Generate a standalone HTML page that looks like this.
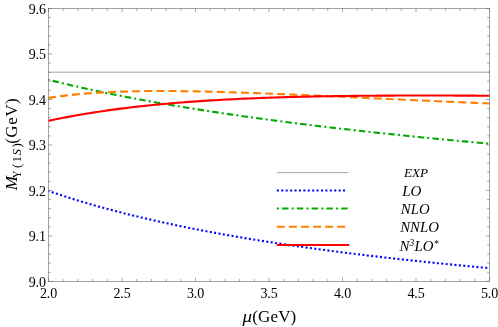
<!DOCTYPE html>
<html><head><meta charset="utf-8"><style>
html,body{margin:0;padding:0;background:#fff;}
svg{display:block;will-change:transform;font-kerning:none;font-family:"Liberation Serif",serif;}
</style></head><body>
<svg width="498" height="327" viewBox="0 0 498 327">
<rect x="0" y="0" width="498" height="327" fill="#fff"/>
<line x1="48.5" y1="72.18" x2="489.5" y2="72.18" stroke="#666666" stroke-width="0.6"/>
<g fill="none" stroke-width="2.1">
<path d="M48.50 190.91 L52.21 192.19 L55.91 193.45 L59.62 194.68 L63.32 195.90 L67.03 197.09 L70.74 198.27 L74.44 199.42 L78.15 200.56 L81.85 201.68 L85.56 202.78 L89.26 203.87 L92.97 204.93 L96.68 205.99 L100.38 207.02 L104.09 208.04 L107.79 209.04 L111.50 210.03 L115.21 211.01 L118.91 211.97 L122.62 212.92 L126.32 213.85 L130.03 214.77 L133.74 215.68 L137.44 216.58 L141.15 217.46 L144.85 218.33 L148.56 219.19 L152.26 220.04 L155.97 220.88 L159.68 221.70 L163.38 222.52 L167.09 223.32 L170.79 224.11 L174.50 224.90 L178.21 225.67 L181.91 226.44 L185.62 227.19 L189.32 227.94 L193.03 228.67 L196.74 229.40 L200.44 230.12 L204.15 230.83 L207.85 231.53 L211.56 232.22 L215.26 232.90 L218.97 233.58 L222.68 234.25 L226.38 234.91 L230.09 235.56 L233.79 236.21 L237.50 236.85 L241.21 237.48 L244.91 238.10 L248.62 238.72 L252.32 239.33 L256.03 239.94 L259.74 240.53 L263.44 241.12 L267.15 241.71 L270.85 242.29 L274.56 242.86 L278.26 243.42 L281.97 243.98 L285.68 244.54 L289.38 245.09 L293.09 245.63 L296.79 246.17 L300.50 246.70 L304.21 247.22 L307.91 247.75 L311.62 248.26 L315.32 248.77 L319.03 249.28 L322.74 249.78 L326.44 250.27 L330.15 250.76 L333.85 251.25 L337.56 251.73 L341.26 252.21 L344.97 252.68 L348.68 253.15 L352.38 253.61 L356.09 254.07 L359.79 254.52 L363.50 254.97 L367.21 255.42 L370.91 255.86 L374.62 256.30 L378.32 256.73 L382.03 257.16 L385.74 257.59 L389.44 258.01 L393.15 258.43 L396.85 258.84 L400.56 259.25 L404.26 259.66 L407.97 260.06 L411.68 260.46 L415.38 260.86 L419.09 261.25 L422.79 261.64 L426.50 262.03 L430.21 262.41 L433.91 262.79 L437.62 263.17 L441.32 263.54 L445.03 263.91 L448.74 264.28 L452.44 264.64 L456.15 265.00 L459.85 265.36 L463.56 265.72 L467.26 266.07 L470.97 266.42 L474.68 266.76 L478.38 267.11 L482.09 267.45 L485.79 267.79 L489.50 268.12" stroke="#0000ff" stroke-dasharray="2 2.41" stroke-dashoffset="1"/>
<path d="M48.50 79.76 L52.21 80.69 L55.91 81.61 L59.62 82.51 L63.32 83.40 L67.03 84.28 L70.74 85.15 L74.44 86.00 L78.15 86.85 L81.85 87.68 L85.56 88.51 L89.26 89.32 L92.97 90.12 L96.68 90.92 L100.38 91.70 L104.09 92.47 L107.79 93.24 L111.50 93.99 L115.21 94.74 L118.91 95.48 L122.62 96.21 L126.32 96.93 L130.03 97.64 L133.74 98.35 L137.44 99.04 L141.15 99.73 L144.85 100.41 L148.56 101.09 L152.26 101.76 L155.97 102.42 L159.68 103.07 L163.38 103.72 L167.09 104.36 L170.79 104.99 L174.50 105.62 L178.21 106.24 L181.91 106.86 L185.62 107.46 L189.32 108.07 L193.03 108.66 L196.74 109.26 L200.44 109.84 L204.15 110.42 L207.85 111.00 L211.56 111.57 L215.26 112.13 L218.97 112.69 L222.68 113.24 L226.38 113.79 L230.09 114.34 L233.79 114.88 L237.50 115.41 L241.21 115.94 L244.91 116.47 L248.62 116.99 L252.32 117.51 L256.03 118.02 L259.74 118.53 L263.44 119.03 L267.15 119.53 L270.85 120.02 L274.56 120.52 L278.26 121.00 L281.97 121.49 L285.68 121.97 L289.38 122.44 L293.09 122.91 L296.79 123.38 L300.50 123.85 L304.21 124.31 L307.91 124.76 L311.62 125.22 L315.32 125.67 L319.03 126.12 L322.74 126.56 L326.44 127.00 L330.15 127.44 L333.85 127.87 L337.56 128.30 L341.26 128.73 L344.97 129.15 L348.68 129.58 L352.38 130.00 L356.09 130.41 L359.79 130.82 L363.50 131.23 L367.21 131.64 L370.91 132.04 L374.62 132.45 L378.32 132.84 L382.03 133.24 L385.74 133.63 L389.44 134.02 L393.15 134.41 L396.85 134.80 L400.56 135.18 L404.26 135.56 L407.97 135.94 L411.68 136.31 L415.38 136.69 L419.09 137.06 L422.79 137.43 L426.50 137.79 L430.21 138.16 L433.91 138.52 L437.62 138.88 L441.32 139.23 L445.03 139.59 L448.74 139.94 L452.44 140.29 L456.15 140.64 L459.85 140.99 L463.56 141.33 L467.26 141.67 L470.97 142.01 L474.68 142.35 L478.38 142.69 L482.09 143.02 L485.79 143.35 L489.50 143.68" stroke="#00aa00" stroke-dasharray="2 3.2 6.4 3.19" stroke-dashoffset="1"/>
<path d="M48.50 97.90 L52.21 97.34 L55.91 96.81 L59.62 96.31 L63.32 95.84 L67.03 95.41 L70.74 95.00 L74.44 94.61 L78.15 94.26 L81.85 93.92 L85.56 93.61 L89.26 93.32 L92.97 93.06 L96.68 92.81 L100.38 92.58 L104.09 92.38 L107.79 92.19 L111.50 92.01 L115.21 91.85 L118.91 91.71 L122.62 91.59 L126.32 91.47 L130.03 91.38 L133.74 91.29 L137.44 91.22 L141.15 91.16 L144.85 91.11 L148.56 91.07 L152.26 91.04 L155.97 91.02 L159.68 91.02 L163.38 91.02 L167.09 91.03 L170.79 91.05 L174.50 91.07 L178.21 91.11 L181.91 91.15 L185.62 91.20 L189.32 91.26 L193.03 91.32 L196.74 91.39 L200.44 91.46 L204.15 91.54 L207.85 91.63 L211.56 91.72 L215.26 91.82 L218.97 91.92 L222.68 92.02 L226.38 92.13 L230.09 92.24 L233.79 92.36 L237.50 92.48 L241.21 92.61 L244.91 92.74 L248.62 92.87 L252.32 93.00 L256.03 93.14 L259.74 93.28 L263.44 93.42 L267.15 93.57 L270.85 93.71 L274.56 93.86 L278.26 94.01 L281.97 94.17 L285.68 94.32 L289.38 94.48 L293.09 94.64 L296.79 94.80 L300.50 94.96 L304.21 95.12 L307.91 95.28 L311.62 95.45 L315.32 95.61 L319.03 95.78 L322.74 95.95 L326.44 96.12 L330.15 96.28 L333.85 96.45 L337.56 96.62 L341.26 96.79 L344.97 96.96 L348.68 97.14 L352.38 97.31 L356.09 97.48 L359.79 97.65 L363.50 97.82 L367.21 98.00 L370.91 98.17 L374.62 98.34 L378.32 98.51 L382.03 98.68 L385.74 98.86 L389.44 99.03 L393.15 99.20 L396.85 99.37 L400.56 99.54 L404.26 99.71 L407.97 99.88 L411.68 100.05 L415.38 100.22 L419.09 100.39 L422.79 100.55 L426.50 100.72 L430.21 100.89 L433.91 101.05 L437.62 101.22 L441.32 101.38 L445.03 101.55 L448.74 101.71 L452.44 101.87 L456.15 102.04 L459.85 102.20 L463.56 102.36 L467.26 102.52 L470.97 102.67 L474.68 102.83 L478.38 102.99 L482.09 103.14 L485.79 103.30 L489.50 103.45" stroke="#ff8000" stroke-dasharray="8 4.085" stroke-dashoffset="0.6"/>
<path d="M48.50 120.87 L52.21 120.07 L55.91 119.30 L59.62 118.55 L63.32 117.81 L67.03 117.10 L70.74 116.40 L74.44 115.72 L78.15 115.06 L81.85 114.42 L85.56 113.80 L89.26 113.19 L92.97 112.60 L96.68 112.02 L100.38 111.46 L104.09 110.92 L107.79 110.39 L111.50 109.88 L115.21 109.37 L118.91 108.89 L122.62 108.41 L126.32 107.95 L130.03 107.51 L133.74 107.07 L137.44 106.65 L141.15 106.24 L144.85 105.84 L148.56 105.46 L152.26 105.08 L155.97 104.72 L159.68 104.36 L163.38 104.02 L167.09 103.68 L170.79 103.36 L174.50 103.05 L178.21 102.74 L181.91 102.45 L185.62 102.16 L189.32 101.89 L193.03 101.62 L196.74 101.36 L200.44 101.10 L204.15 100.86 L207.85 100.63 L211.56 100.40 L215.26 100.18 L218.97 99.96 L222.68 99.76 L226.38 99.56 L230.09 99.36 L233.79 99.18 L237.50 99.00 L241.21 98.82 L244.91 98.65 L248.62 98.49 L252.32 98.34 L256.03 98.19 L259.74 98.04 L263.44 97.90 L267.15 97.77 L270.85 97.64 L274.56 97.52 L278.26 97.40 L281.97 97.28 L285.68 97.17 L289.38 97.07 L293.09 96.97 L296.79 96.87 L300.50 96.78 L304.21 96.69 L307.91 96.61 L311.62 96.53 L315.32 96.45 L319.03 96.38 L322.74 96.31 L326.44 96.25 L330.15 96.19 L333.85 96.13 L337.56 96.07 L341.26 96.02 L344.97 95.97 L348.68 95.93 L352.38 95.88 L356.09 95.84 L359.79 95.80 L363.50 95.77 L367.21 95.74 L370.91 95.71 L374.62 95.68 L378.32 95.66 L382.03 95.63 L385.74 95.61 L389.44 95.60 L393.15 95.58 L396.85 95.57 L400.56 95.55 L404.26 95.54 L407.97 95.54 L411.68 95.53 L415.38 95.53 L419.09 95.52 L422.79 95.52 L426.50 95.53 L430.21 95.53 L433.91 95.53 L437.62 95.54 L441.32 95.54 L445.03 95.55 L448.74 95.56 L452.44 95.57 L456.15 95.59 L459.85 95.60 L463.56 95.61 L467.26 95.63 L470.97 95.65 L474.68 95.67 L478.38 95.69 L482.09 95.71 L485.79 95.73 L489.50 95.75" stroke="#ff0000"/>
</g>
<g stroke="#666666" stroke-width="0.6" fill="none">
<rect x="48.5" y="8.5" width="441.0" height="272.9"/>
</g>
<g stroke="#666666" stroke-width="0.6">
<line x1="48.50" y1="281.4" x2="48.50" y2="277.79999999999995"/>
<line x1="48.50" y1="8.5" x2="48.50" y2="12.1"/>
<line x1="63.20" y1="281.4" x2="63.20" y2="279.09999999999997"/>
<line x1="63.20" y1="8.5" x2="63.20" y2="10.8"/>
<line x1="77.90" y1="281.4" x2="77.90" y2="279.09999999999997"/>
<line x1="77.90" y1="8.5" x2="77.90" y2="10.8"/>
<line x1="92.60" y1="281.4" x2="92.60" y2="279.09999999999997"/>
<line x1="92.60" y1="8.5" x2="92.60" y2="10.8"/>
<line x1="107.30" y1="281.4" x2="107.30" y2="279.09999999999997"/>
<line x1="107.30" y1="8.5" x2="107.30" y2="10.8"/>
<line x1="122.00" y1="281.4" x2="122.00" y2="277.79999999999995"/>
<line x1="122.00" y1="8.5" x2="122.00" y2="12.1"/>
<line x1="136.70" y1="281.4" x2="136.70" y2="279.09999999999997"/>
<line x1="136.70" y1="8.5" x2="136.70" y2="10.8"/>
<line x1="151.40" y1="281.4" x2="151.40" y2="279.09999999999997"/>
<line x1="151.40" y1="8.5" x2="151.40" y2="10.8"/>
<line x1="166.10" y1="281.4" x2="166.10" y2="279.09999999999997"/>
<line x1="166.10" y1="8.5" x2="166.10" y2="10.8"/>
<line x1="180.80" y1="281.4" x2="180.80" y2="279.09999999999997"/>
<line x1="180.80" y1="8.5" x2="180.80" y2="10.8"/>
<line x1="195.50" y1="281.4" x2="195.50" y2="277.79999999999995"/>
<line x1="195.50" y1="8.5" x2="195.50" y2="12.1"/>
<line x1="210.20" y1="281.4" x2="210.20" y2="279.09999999999997"/>
<line x1="210.20" y1="8.5" x2="210.20" y2="10.8"/>
<line x1="224.90" y1="281.4" x2="224.90" y2="279.09999999999997"/>
<line x1="224.90" y1="8.5" x2="224.90" y2="10.8"/>
<line x1="239.60" y1="281.4" x2="239.60" y2="279.09999999999997"/>
<line x1="239.60" y1="8.5" x2="239.60" y2="10.8"/>
<line x1="254.30" y1="281.4" x2="254.30" y2="279.09999999999997"/>
<line x1="254.30" y1="8.5" x2="254.30" y2="10.8"/>
<line x1="269.00" y1="281.4" x2="269.00" y2="277.79999999999995"/>
<line x1="269.00" y1="8.5" x2="269.00" y2="12.1"/>
<line x1="283.70" y1="281.4" x2="283.70" y2="279.09999999999997"/>
<line x1="283.70" y1="8.5" x2="283.70" y2="10.8"/>
<line x1="298.40" y1="281.4" x2="298.40" y2="279.09999999999997"/>
<line x1="298.40" y1="8.5" x2="298.40" y2="10.8"/>
<line x1="313.10" y1="281.4" x2="313.10" y2="279.09999999999997"/>
<line x1="313.10" y1="8.5" x2="313.10" y2="10.8"/>
<line x1="327.80" y1="281.4" x2="327.80" y2="279.09999999999997"/>
<line x1="327.80" y1="8.5" x2="327.80" y2="10.8"/>
<line x1="342.50" y1="281.4" x2="342.50" y2="277.79999999999995"/>
<line x1="342.50" y1="8.5" x2="342.50" y2="12.1"/>
<line x1="357.20" y1="281.4" x2="357.20" y2="279.09999999999997"/>
<line x1="357.20" y1="8.5" x2="357.20" y2="10.8"/>
<line x1="371.90" y1="281.4" x2="371.90" y2="279.09999999999997"/>
<line x1="371.90" y1="8.5" x2="371.90" y2="10.8"/>
<line x1="386.60" y1="281.4" x2="386.60" y2="279.09999999999997"/>
<line x1="386.60" y1="8.5" x2="386.60" y2="10.8"/>
<line x1="401.30" y1="281.4" x2="401.30" y2="279.09999999999997"/>
<line x1="401.30" y1="8.5" x2="401.30" y2="10.8"/>
<line x1="416.00" y1="281.4" x2="416.00" y2="277.79999999999995"/>
<line x1="416.00" y1="8.5" x2="416.00" y2="12.1"/>
<line x1="430.70" y1="281.4" x2="430.70" y2="279.09999999999997"/>
<line x1="430.70" y1="8.5" x2="430.70" y2="10.8"/>
<line x1="445.40" y1="281.4" x2="445.40" y2="279.09999999999997"/>
<line x1="445.40" y1="8.5" x2="445.40" y2="10.8"/>
<line x1="460.10" y1="281.4" x2="460.10" y2="279.09999999999997"/>
<line x1="460.10" y1="8.5" x2="460.10" y2="10.8"/>
<line x1="474.80" y1="281.4" x2="474.80" y2="279.09999999999997"/>
<line x1="474.80" y1="8.5" x2="474.80" y2="10.8"/>
<line x1="489.50" y1="281.4" x2="489.50" y2="277.79999999999995"/>
<line x1="489.50" y1="8.5" x2="489.50" y2="12.1"/>
<line x1="48.5" y1="281.40" x2="52.1" y2="281.40"/>
<line x1="489.5" y1="281.40" x2="485.9" y2="281.40"/>
<line x1="48.5" y1="272.30" x2="50.8" y2="272.30"/>
<line x1="489.5" y1="272.30" x2="487.2" y2="272.30"/>
<line x1="48.5" y1="263.21" x2="50.8" y2="263.21"/>
<line x1="489.5" y1="263.21" x2="487.2" y2="263.21"/>
<line x1="48.5" y1="254.11" x2="50.8" y2="254.11"/>
<line x1="489.5" y1="254.11" x2="487.2" y2="254.11"/>
<line x1="48.5" y1="245.01" x2="50.8" y2="245.01"/>
<line x1="489.5" y1="245.01" x2="487.2" y2="245.01"/>
<line x1="48.5" y1="235.92" x2="52.1" y2="235.92"/>
<line x1="489.5" y1="235.92" x2="485.9" y2="235.92"/>
<line x1="48.5" y1="226.82" x2="50.8" y2="226.82"/>
<line x1="489.5" y1="226.82" x2="487.2" y2="226.82"/>
<line x1="48.5" y1="217.72" x2="50.8" y2="217.72"/>
<line x1="489.5" y1="217.72" x2="487.2" y2="217.72"/>
<line x1="48.5" y1="208.63" x2="50.8" y2="208.63"/>
<line x1="489.5" y1="208.63" x2="487.2" y2="208.63"/>
<line x1="48.5" y1="199.53" x2="50.8" y2="199.53"/>
<line x1="489.5" y1="199.53" x2="487.2" y2="199.53"/>
<line x1="48.5" y1="190.43" x2="52.1" y2="190.43"/>
<line x1="489.5" y1="190.43" x2="485.9" y2="190.43"/>
<line x1="48.5" y1="181.34" x2="50.8" y2="181.34"/>
<line x1="489.5" y1="181.34" x2="487.2" y2="181.34"/>
<line x1="48.5" y1="172.24" x2="50.8" y2="172.24"/>
<line x1="489.5" y1="172.24" x2="487.2" y2="172.24"/>
<line x1="48.5" y1="163.14" x2="50.8" y2="163.14"/>
<line x1="489.5" y1="163.14" x2="487.2" y2="163.14"/>
<line x1="48.5" y1="154.05" x2="50.8" y2="154.05"/>
<line x1="489.5" y1="154.05" x2="487.2" y2="154.05"/>
<line x1="48.5" y1="144.95" x2="52.1" y2="144.95"/>
<line x1="489.5" y1="144.95" x2="485.9" y2="144.95"/>
<line x1="48.5" y1="135.85" x2="50.8" y2="135.85"/>
<line x1="489.5" y1="135.85" x2="487.2" y2="135.85"/>
<line x1="48.5" y1="126.76" x2="50.8" y2="126.76"/>
<line x1="489.5" y1="126.76" x2="487.2" y2="126.76"/>
<line x1="48.5" y1="117.66" x2="50.8" y2="117.66"/>
<line x1="489.5" y1="117.66" x2="487.2" y2="117.66"/>
<line x1="48.5" y1="108.56" x2="50.8" y2="108.56"/>
<line x1="489.5" y1="108.56" x2="487.2" y2="108.56"/>
<line x1="48.5" y1="99.47" x2="52.1" y2="99.47"/>
<line x1="489.5" y1="99.47" x2="485.9" y2="99.47"/>
<line x1="48.5" y1="90.37" x2="50.8" y2="90.37"/>
<line x1="489.5" y1="90.37" x2="487.2" y2="90.37"/>
<line x1="48.5" y1="81.27" x2="50.8" y2="81.27"/>
<line x1="489.5" y1="81.27" x2="487.2" y2="81.27"/>
<line x1="48.5" y1="72.18" x2="50.8" y2="72.18"/>
<line x1="489.5" y1="72.18" x2="487.2" y2="72.18"/>
<line x1="48.5" y1="63.08" x2="50.8" y2="63.08"/>
<line x1="489.5" y1="63.08" x2="487.2" y2="63.08"/>
<line x1="48.5" y1="53.98" x2="52.1" y2="53.98"/>
<line x1="489.5" y1="53.98" x2="485.9" y2="53.98"/>
<line x1="48.5" y1="44.89" x2="50.8" y2="44.89"/>
<line x1="489.5" y1="44.89" x2="487.2" y2="44.89"/>
<line x1="48.5" y1="35.79" x2="50.8" y2="35.79"/>
<line x1="489.5" y1="35.79" x2="487.2" y2="35.79"/>
<line x1="48.5" y1="26.69" x2="50.8" y2="26.69"/>
<line x1="489.5" y1="26.69" x2="487.2" y2="26.69"/>
<line x1="48.5" y1="17.60" x2="50.8" y2="17.60"/>
<line x1="489.5" y1="17.60" x2="487.2" y2="17.60"/>
<line x1="48.5" y1="8.50" x2="52.1" y2="8.50"/>
<line x1="489.5" y1="8.50" x2="485.9" y2="8.50"/>
</g>
<g font-size="14px" fill="#000" letter-spacing="-0.15">
<text x="48.50" y="298.0" text-anchor="middle">2.0</text>
<text x="122.00" y="298.0" text-anchor="middle">2.5</text>
<text x="195.50" y="298.0" text-anchor="middle">3.0</text>
<text x="269.00" y="298.0" text-anchor="middle">3.5</text>
<text x="342.50" y="298.0" text-anchor="middle">4.0</text>
<text x="416.00" y="298.0" text-anchor="middle">4.5</text>
<text x="489.50" y="298.0" text-anchor="middle">5.0</text>
<text x="45.8" y="286.70" text-anchor="end">9.0</text>
<text x="45.8" y="241.22" text-anchor="end">9.1</text>
<text x="45.8" y="195.73" text-anchor="end">9.2</text>
<text x="45.8" y="150.25" text-anchor="end">9.3</text>
<text x="45.8" y="104.77" text-anchor="end">9.4</text>
<text x="45.8" y="59.28" text-anchor="end">9.5</text>
<text x="45.8" y="13.80" text-anchor="end">9.6</text>
</g>
<!-- legend -->
<line x1="277.2" y1="172.6" x2="348.4" y2="172.6" stroke="#666666" stroke-width="0.6"/>
<g fill="none" stroke-width="2.1">
<line x1="276.9" y1="190.5" x2="346" y2="190.5" stroke="#0000ff" stroke-dasharray="2 2.41"/>
<line x1="276.9" y1="208.5" x2="348" y2="208.5" stroke="#00aa00" stroke-dasharray="2 3.2 6.4 3.19"/>
<line x1="276.8" y1="226.8" x2="346" y2="226.8" stroke="#ff8000" stroke-dasharray="8 4.085"/>
<line x1="276.9" y1="245" x2="349.2" y2="245" stroke="#ff0000"/>
</g>
<g font-style="italic" fill="#000">
<text x="404" y="177.2" font-size="13.2px">EXP</text>
<text x="402.2" y="195.9" font-size="15px">LO</text>
<text x="400.8" y="214.2" font-size="14.8px">NLO</text>
<text x="400.2" y="232.3" font-size="14.8px">NNLO</text>
<text x="399.6" y="250.6" font-size="14.8px">N<tspan font-size="9.5px" dy="-4.8">3</tspan><tspan dy="4.8" dx="0.3">LO</tspan><tspan font-size="9.5px" dy="-3.8" dx="0.3">*</tspan></text>
</g>
<!-- axis labels -->
<text transform="translate(242.5 322.3) scale(1.12 1)" font-size="17px" font-style="italic">μ</text>
<text x="252.25" y="322.3" font-size="17px" letter-spacing="0.15">(GeV)</text>
<g transform="translate(16.9 190.2) rotate(-90)">
<text x="0" y="0" font-size="17px" font-style="italic">M</text>
<text transform="translate(11.9 3.8) scale(0.82 1)" font-size="13px">Υ</text>
<text y="3.8" font-size="13px"><tspan x="22.2">(</tspan><tspan x="27.8">1</tspan><tspan x="34.6" font-style="italic">S</tspan><tspan x="42.6">)</tspan></text>
<text x="46.4" y="0" font-size="17px" letter-spacing="0.5">(GeV)</text>
</g>
</svg>
</body></html>
